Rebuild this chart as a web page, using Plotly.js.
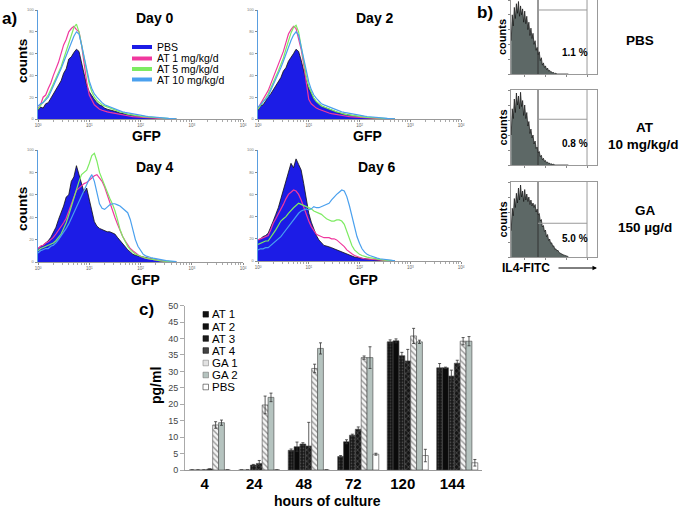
<!DOCTYPE html>
<html><head><meta charset="utf-8">
<script src="https://cdn.plot.ly/plotly-3.0.1.min.js"></script>
<style>html,body{margin:0;padding:0;background:#fff}#chart{width:685px;height:511px}</style>
</head><body><div id="chart"></div>
<script>
// ---------- panel a: GFP histograms (counts as % of axis height), bins every 0.05 log10 units from 10^0 ----------
const seriesNames = ['PBS','AT 1 mg/kg/d','AT 5 mg/kg/d','AT 10 mg/kg/d'];
const dayTitles = ['Day 0','Day 2','Day 4','Day 6'];

const pbsDay0  = [8,11,10,14,15,19,22,27,30,35,42,46,55,57,61,64,62,52,40,31,25,21,18,15,13,12,10,9,8.5,8,7,6.5,5.5,5,4.5,4,3.5,3,2.6,2.3,2,1.7,1.4,1.2,1,0.8,0.6,0.5,0.4,0.3,0.2,0.1,0,0,0];
const at1Day0  = [10,13,20,22,28,33,40,46,52,60,68,73,80,83,85,82,80,68,50,34,22,18,13,11,9,8,7,6.5,6,5.5,5,4.5,4,3.6,3.2,2.8,2.5,2.2,2,1.7,1.5,1.3,1.1,0.9,0.8,0.6,0.5,0.4,0.3,0.2,0.1,0,0,0,0];
const at5Day0  = [9,12,15,18,22,27,32,37,42,48,55,62,70,77,84,87,80,68,55,42,32,25,20,17,15,13,12,11,10,9,8,7,6.5,6,5,4.5,4,3.5,3,2.8,2.5,2.2,2,1.7,1.5,1.2,1,0.8,0.7,0.5,0.4,0.3,0.2,0.1,0];
const at10Day0 = [12,14,15,18,20,25,30,35,40,46,52,58,65,71,76,80,78,68,56,45,35,28,23,20,17,15,13,12,11,10,9,8,7.5,6.5,6,5.5,5,4.5,4,3.6,3.2,2.9,2.6,2.3,2,1.8,1.5,1.3,1.1,0.9,0.7,0.5,0.4,0.3,0.2];

const pbsDay2  = [8,12,13,17,20,23,27,30,34,38,44,47,53,56,60,64,62,54,44,35,28,23,19,16,14,12,11,10,9,8,7,6,5.5,5,4.5,4,3.5,3,2.6,2.3,2,1.7,1.4,1.2,1,0.8,0.6,0.5,0.4,0.3,0.2,0.1,0,0,0];
const at1Day2  = [10,14,18,22,26,32,38,45,50,56,62,70,78,82,85,83,74,64,50,34,18,14,12,10,9,8,7,6,5.5,5,4.5,4,3.5,3.2,2.8,2.5,2.2,2,1.8,1.6,1.5,1.3,1.1,0.9,0.8,0.6,0.5,0.4,0.3,0.2,0.1,0,0,0,0];
const at5Day2  = [9,12,15,19,23,28,33,38,44,50,56,64,72,79,84,86,80,66,52,40,30,24,19,16,14,12,11,10,9,8,7,6.5,6,5,4.5,4,3.6,3.2,2.8,2.5,2.2,2,1.8,1.5,1.3,1.1,0.9,0.7,0.6,0.5,0.4,0.3,0.2,0.1,0];
const at10Day2 = [11,13,16,18,21,26,31,36,41,47,53,60,66,72,77,80,77,66,54,43,34,27,22,19,16,14,13,12,11,10,9,8,7,6.5,6,5.5,5,4.5,4,3.6,3.2,2.9,2.6,2.3,2,1.8,1.5,1.3,1.1,0.9,0.7,0.5,0.4,0.3,0.2];

const pbsDay4  = [12,14,15,17,19,22,26,31,38,44,50,58,60,72,76,86,78,72,62,66,56,46,36,32,30,29,28,27,27,26,25,22,19,16,14,11,9,7,6,5.5,5,4,3.5,3,2.5,2,1.6,1.3,1,0.8,0.6,0.4,0.3,0.1,0];
const at1Day4  = [12,14,15,17,18,20,22,25,28,31,35,39,45,52,58,64,66,68,70,71,73,75,77,78,75,72,67,60,52,46,40,34,28,23,19,15,12,10,8,6.5,5,4,3.5,3,2.5,2,1.6,1.3,1,0.8,0.6,0.4,0.3,0.1,0];
const at5Day4  = [10,12,13,14,15,16,17,19,22,25,30,35,42,50,58,65,72,78,80,82,88,95,97,90,80,74,68,63,57,52,46,38,29,23,18,14,11,9,7,6,5,4,3.5,3,2.5,2,1.6,1.3,1,0.8,0.6,0.4,0.3,0.1,0];
const at10Day4 = [8,10,11,12,12,14,15,17,20,23,26,30,34,39,44,50,55,60,65,70,74,78,72,62,52,48,47,49,51,52,52,51,50,48,46,44,38,28,20,14,10,7,5.5,4.5,4,3.4,2.8,2.3,2,1.6,1.2,1,0.8,0.6,0.4];

const pbsDay6  = [19,20,22,23,25,30,36,42,48,56,64,72,80,88,84,92,87,82,70,55,43,35,28,23,19,16,14,13.5,13,12,11,10,9,8,7,6,5,4.2,3.6,3.2,3,2.5,2,1.8,1.5,1.2,1,0.8,0.5,0.4,0.3,0.2,0.1,0,0];
const at1Day6  = [19,20,21,22,23,28,34,38,42,47,51,56,60,62,64,63,60,55,48,42,36,31,27,24,23,22,21,21,21,20,20,19,17,15,13,10,8,6.5,5,4,3,2.5,2,1.8,1.5,1.2,1,0.8,0.5,0.4,0.3,0.2,0.1,0,0];
const at5Day6  = [15,16,17,18,18,21,24,28,32,36,38,40,43,46,48,50,52,51,50,49,48,47,45,44,43,42,40,38,37,36,36,37,37,36,33,27,20,14,10,8,6,5,4,3.5,3,2.5,2,1.6,1.2,1,0.8,0.6,0.4,0.2,0.1];
const at10Day6 = [10,11,11,12,12,14,16,18,20,22,25,28,32,35,38,40,43,45,46,47,46,47,49,48,48,49,50,51,52,55,58,60,62,64,63,58,50,40,30,22,16,11,8,6,5,4,3.2,2.6,2,1.6,1.2,1,0.8,0.6,0.4];

// ---------- panel b: IL4-FITC histograms, bins every 0.05 log units from 0.35 ----------
const il4Groups = ['PBS','AT 10 mg/kg/d','GA 150 µg/d'];
const il4Percent = ['1.1 %','0.8 %','5.0 %'];
const il4PBS = [45,80,65,90,75,95,82,98,78,92,80,88,70,85,68,78,60,70,52,62,48,55,40,45,32,36,26,30,18,22,12,15,9,11,6,8,4,5,2.5,3,1.5,2,0.5,1,0,0.5,0,0,0,0,0,0,0,0,0,0];
const il4AT  = [40,75,62,88,70,96,80,92,75,97,78,86,66,80,62,70,52,58,42,48,36,40,28,32,22,24,16,18,11,13,7,9,5,6,3,4,2,2.5,1,1.5,0.5,1,0,0.5,0,0,0,0,0,0,0,0,0,0,0,0];
const il4GA  = [35,65,55,78,66,85,72,92,76,96,80,88,74,90,76,84,74,80,70,76,68,72,66,70,60,64,56,58,48,50,40,42,34,36,27,30,22,24,18,19,14,15,10,11,8,9,6,5,4,4,3,2.5,2,1.5,1,0.5];
const il4Gate = [86.5, 61, 45];   // horizontal gate level (% of axis)

// ---------- panel c: IL-4 pg/ml ----------
const hours = ['4','24','48','72','120','144'];
const barNames = ['AT 1','AT 2','AT 3','AT 4','GA 1','GA 2','PBS'];
const at1Vals = [0, 0, 6.0, 4.1, 39.0, 31.1];
const at2Vals = [0, 0, 7.1, 8.6, 39.3, 31.1];
const at3Vals = [0, 1.5, 7.9, 10.6, 34.8, 28.6];
const at4Vals = [0.3, 2.0, 7.3, 12.4, 33.2, 32.5];
const ga1Vals = [13.7, 19.8, 30.9, 34.2, 40.8, 39.2];
const ga2Vals = [14.4, 22.1, 37.0, 34.2, 39.0, 39.2];
const pbsVals = [0, 0, 0, 4.8, 4.4, 2.2];
const at1Err = [null, null, 0.4, 0.3, 0.6, 1.3];
const at2Err = [null, null, 1.4, 0.6, 0.6, 0.2];
const at3Err = [null, 0.2, 0.4, 0.3, 1.0, 1.8];
const at4Err = [null, 0.9, 7.2, 0.7, 3.5, 0.9];
const ga1Err = [1.0, 2.7, 1.3, 0.5, 2.3, 1.1];
const ga2Err = [0.8, 1.3, 1.7, 3.3, 0.5, 1.4];
const pbsErr = [null, null, null, 0.3, 1.9, 1.0];

// ---------- build ----------
const W = 685, H = 511;
const px = v => v / W, py = v => 1 - v / H;
const FONT = 'Arial, "Liberation Sans", sans-serif';
const gfpX = pbsDay0.map((_, i) => Math.pow(10, i * 0.05));
const il4X = il4GA.map((_, i) => 0.35 + i * 0.05);

const colors = {pbs:'#1c1ce6', at1:'#f0389e', at5:'#7deb62', at10:'#4aa0ee'};
const traces = [];
const layout = {
  width: W, height: H, margin:{l:0,r:0,t:0,b:0}, paper_bgcolor:'#fff', plot_bgcolor:'rgba(0,0,0,0)',
  showlegend:false, barmode:'group', bargap:0.17, bargroupgap:0,
  font:{family:FONT, color:'#000'}, annotations:[], shapes:[]
};
const ann = (text, x, y, size, extra) => layout.annotations.push(Object.assign({
  text, x:px(x), y:py(y), xref:'paper', yref:'paper', showarrow:false,
  xanchor:'center', yanchor:'middle', font:{family:FONT, size, color:'#000'}}, extra||{}));

const dayData = [[pbsDay0,at1Day0,at5Day0,at10Day0],[pbsDay2,at1Day2,at5Day2,at10Day2],
                 [pbsDay4,at1Day4,at5Day4,at10Day4],[pbsDay6,at1Day6,at5Day6,at10Day6]];
const dayBoxes = [[38,243,10,119],[258,461,10,119],[38,243,150,262],[258,461,150,261]];
const dayTitlePos = [[155,18],[375,18],[155,167],[377,167]];
const gfpPos = [[146,136],[367,136],[145,280],[363,280]];

dayData.forEach((d, k) => {
  const n = k + 1, xa = 'x' + (n === 1 ? '' : n), ya = 'y' + (n === 1 ? '' : n);
  const b = dayBoxes[k];
  layout['xaxis' + (n === 1 ? '' : n)] = {
    type:'log', range:[0,4], domain:[px(b[0]), px(b[1])], anchor:ya,
    showline:true, linecolor:'#999', linewidth:1, showgrid:false, zeroline:false,
    ticks:'outside', ticklen:2, tickcolor:'#888', ticklabelstandoff:0,
    tickvals:[1,10,100,1000,10000], ticktext:['10<sup>0</sup>','10<sup>1</sup>','10<sup>2</sup>','10<sup>3</sup>','10<sup>4</sup>'],
    tickfont:{size:4.5, color:'#666'}, minor:{ticks:'outside', ticklen:1.5, tickcolor:'#aaa', dtick:'D1'}
  };
  layout['yaxis' + (n === 1 ? '' : n)] = {
    range:[0,100], domain:[py(b[3]), py(b[2])], anchor:xa,
    showline:true, linecolor:'#5a9ee0', linewidth:1.5, showgrid:false, zeroline:false,
    ticks:'outside', ticklen:2, tickcolor:'#888', tickvals:[0,20,40,60,80,100],
    tickfont:{size:4, color:'#777'}
  };
  traces.push({x:gfpX, y:d[0], xaxis:xa, yaxis:ya, type:'scatter', mode:'lines', fill:'tozeroy',
    fillcolor:colors.pbs, line:{color:'#111', width:0.8}, hoverinfo:'skip'});
  [[d[1], colors.at1],[d[2], colors.at5],[d[3], colors.at10]].forEach(([v, c]) =>
    traces.push({x:gfpX, y:v, xaxis:xa, yaxis:ya, type:'scatter', mode:'lines',
      line:{color:c, width:1.2}, hoverinfo:'skip'}));
  ann('<b>' + dayTitles[k] + '</b>', dayTitlePos[k][0], dayTitlePos[k][1], 14);
  ann('<b>GFP</b>', gfpPos[k][0], gfpPos[k][1], 14);
});
ann('<b>counts</b>', 23, 61, 13.5, {textangle:-90});
ann('<b>counts</b>', 23, 209, 13.5, {textangle:-90});

// legend of panel a
const legCols = [colors.pbs, colors.at1, colors.at5, colors.at10];
[47, 58.5, 69, 79.5].forEach((yy, i) => {
  layout.shapes.push({type:'line', xref:'paper', yref:'paper', x0:px(132), x1:px(152), y0:py(yy), y1:py(yy),
    line:{color:legCols[i], width:4}});
  ann(seriesNames[i], 155, yy, 10.5, {xanchor:'left'});
});

// panel b
const il4Data = [il4PBS, il4AT, il4GA];
const il4Boxes = [[511,597,0,74],[511,597,90,165],[511,597,182,257]];
const il4PctY = [52, 143, 238];
il4Data.forEach((v, k) => {
  const n = 5 + k, xa = 'x' + n, ya = 'y' + n, b = il4Boxes[k];
  layout['xaxis' + n] = {range:[0.34,4.48], domain:[px(b[0]), px(b[1])], anchor:ya,
    showline:true, mirror:true, linecolor:'#999', linewidth:1, showgrid:false, zeroline:false,
    ticks:'outside', ticklen:2, tickcolor:'#888', tickvals:[1,2,3,4], showticklabels:false};
  layout['yaxis' + n] = {range:[0,100], domain:[py(b[3]), py(b[2])], anchor:xa,
    showline:true, mirror:true, linecolor:'#999', linewidth:1, showgrid:false, zeroline:false,
    ticks:'outside', ticklen:2, tickcolor:'#888', tickvals:[0,20,40,60,80,100], showticklabels:false};
  traces.push({x:il4X, y:v, xaxis:xa, yaxis:ya, type:'scatter', mode:'lines', fill:'tozeroy',
    fillcolor:'#5d6866', line:{color:'#111', width:0.7}, hoverinfo:'skip'});
  layout.shapes.push({type:'line', xref:xa, yref:ya, x0:1.64, x1:1.64, y0:0, y1:100, line:{color:'#333', width:1}});
  layout.shapes.push({type:'line', xref:xa, yref:ya, x0:4.0, x1:4.0, y0:0, y1:100, line:{color:'#999', width:1}});
  layout.shapes.push({type:'line', xref:xa, yref:ya, x0:1.64, x1:4.0, y0:il4Gate[k], y1:il4Gate[k], line:{color:'#999', width:1}});
  ann('<b>' + il4Percent[k] + '</b>', 575, il4PctY[k], 10);
  ann('<b>counts</b>', 502, (b[2] + b[3]) / 2, 11, {textangle:-90});
});
ann('<b>PBS</b>', 640, 40, 13.5);
ann('<b>AT</b>', 645, 127, 13.5);
ann('<b>10 mg/kg/d</b>', 643, 144, 13.5);
ann('<b>GA</b>', 645, 210, 13.5);
ann('<b>150 µg/d</b>', 645, 227, 13.5);
ann('<b>IL4-FITC</b>', 500, 268, 12, {xanchor:'left'});
layout.annotations.push({text:'', xref:'paper', yref:'paper', x:px(597), y:py(268), ax:-40, ay:0,
  showarrow:true, arrowhead:2, arrowsize:0.9, arrowwidth:1, arrowcolor:'#000'});

// panel c
const barVals = [at1Vals, at2Vals, at3Vals, at4Vals, ga1Vals, ga2Vals, pbsVals];
const barErrs = [at1Err, at2Err, at3Err, at4Err, ga1Err, ga2Err, pbsErr];
const barMarkers = [
  {color:'#151515', pattern:{shape:'.', fgcolor:'#3c3c3c', bgcolor:'#111', size:3, solidity:0.3}},
  {color:'#0b0b0b'},
  {color:'#1c1c1c', pattern:{shape:'.', fgcolor:'#575757', bgcolor:'#181818', size:3, solidity:0.25}},
  {color:'#1c1c1c', pattern:{shape:'x', fgcolor:'#808080', bgcolor:'#161616', size:4, solidity:0.2}},
  {color:'#ffffff', pattern:{shape:'\\', fgcolor:'#9a9a9a', bgcolor:'#f5f5f5', size:4, solidity:0.35}},
  {color:'#b5c3bf'},
  {color:'#ffffff'}
];
barVals.forEach((v, i) => {
  const m = Object.assign({line:{color:'#444', width:0.6}}, barMarkers[i]);
  traces.push({type:'bar', x:hours, y:v, name:barNames[i], xaxis:'x8', yaxis:'y8', marker:m,
    error_y:{type:'data', array:barErrs[i], visible:true, color:'#333', thickness:0.8, width:1.5},
    hoverinfo:'skip'});
});
layout.xaxis8 = {type:'category', domain:[px(185), px(482)], anchor:'y8', showline:true, linecolor:'#999',
  linewidth:1, ticks:'', showgrid:false, zeroline:false, ticklabelshift:-5,
  tickfont:{family:FONT, size:15, color:'#000', weight:'bold'}};
layout.yaxis8 = {range:[0,50], dtick:5, domain:[py(470), py(305.7)], anchor:'x8', showline:true,
  linecolor:'#aaa', linewidth:1, ticks:'outside', ticklen:4, tickcolor:'#aaa', showgrid:false, zeroline:false,
  tickfont:{family:FONT, size:9, color:'#444'}};
const barLegCols = [['#111','#111'],['#111','#111'],['#1c1c1c','#111'],['#444','#111'],['#e2e2e2','#888'],['#b5c3bf','#777'],['#ffffff','#333']];
[314.3, 326.5, 338.5, 350.5, 363, 375, 387].forEach((yy, i) => {
  layout.shapes.push({type:'rect', xref:'paper', yref:'paper', x0:px(203), x1:px(208.5), y0:py(yy+2.8), y1:py(yy-2.8),
    fillcolor:barLegCols[i][0], line:{color:barLegCols[i][1], width:0.6}});
  ann(barNames[i], 209.5, yy, 11.5, {xanchor:'left'});
});
ann('<b>pg/ml</b>', 156, 386, 14, {textangle:-90});
ann('<b>hours of culture</b>', 327, 501, 14);

ann('<b>a)</b>', 9, 18, 17);
ann('<b>b)</b>', 485, 13, 17);
ann('<b>c)</b>', 146, 309, 17);

Plotly.newPlot('chart', traces, layout, {staticPlot:true, displayModeBar:false});
</script></body></html>
